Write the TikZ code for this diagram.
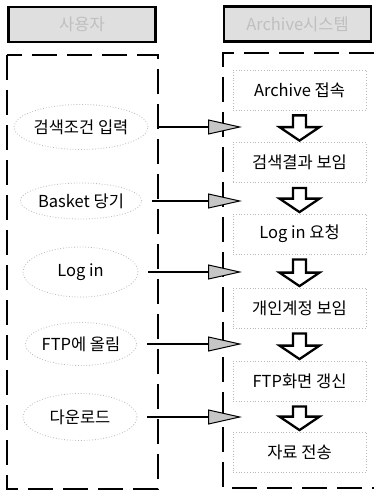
\documentclass[tikz,border=0pt]{standalone}
\usepackage{fontspec}
\newfontfamily\kr{Noto Sans CJK KR}
\usetikzlibrary{shapes.geometric,arrows.meta,calc}
\begin{document}
\begin{tikzpicture}[x=1pt,y=-1pt,
  txt/.style={font=\kr\fontsize{16.5}{19}\selectfont},
  header/.style={txt, draw=black, line width=2.6pt, fill=gray!25, text=gray!50, minimum width=147pt, minimum height=35pt, inner sep=0pt},
  proc/.style={txt, draw=gray!55, dotted, line width=0.8pt, minimum width=133pt, minimum height=40pt, inner sep=0pt},
  usecase/.style={txt, ellipse, draw=gray!55, dotted, line width=0.8pt, inner sep=0pt},
  dashbox/.style={line width=2.4pt, dash pattern=on 25pt off 10pt},
  send/.style={line width=2.2pt, -{Triangle[length=34pt,width=15pt,fill=gray!45,line width=1pt]}, shorten <=10pt},
  hollow/.style={draw=black, fill=white, line width=2.3pt, line join=miter}]
\useasboundingbox (0,0) rectangle (374,492);
\fill[white] (0,0) rectangle (374,492);
% headers
\node[header] (h1) at (82,24.5) {사용자};
\node[header] (h2) at (297.5,24) {Archive시스템};
% swimlanes
\draw[dashbox] (7,55) rectangle (158,489);
\draw[dashbox] (374,53) -- (223,53) -- (223,488) -- (374,488);
% process boxes
\node[proc] (b1) at (299.5,90) {Archive 접속};
\node[proc] (b2) at (299.5,162.5) {검색결과 보임};
\node[proc] (b3) at (299.5,234) {Log in 요청};
\node[proc] (b4) at (299.5,308) {개인계정 보임};
\node[proc] (b5) at (299.5,381) {FTP화면 갱신};
\node[proc] (b6) at (299.5,452) {자료 전송};
% use cases
\node[usecase, minimum width=112pt, minimum height=45pt] (e1) at (81,127) {검색조건 입력};
\node[usecase, minimum width=113pt, minimum height=36pt] (e2) at (81,201) {Basket 당기};
\node[usecase, minimum width=115pt, minimum height=50pt] (e3) at (80.5,272) {Log in};
\node[usecase, minimum width=108pt, minimum height=43pt] (e4) at (81,344) {FTP에 올림};
\node[usecase, minimum width=114pt, minimum height=47pt] (e5) at (80,417) {다운로드};
% arrow tips
\coordinate (t1) at (242,127);
\coordinate (t2) at (242,201);
\coordinate (t3) at (242,272);
\coordinate (t4) at (242,344);
\coordinate (t5) at (242,417);
\foreach \i in {1,...,5} \draw[send] (e\i.east) -- (t\i);
% hollow down arrows
\foreach \a/\b in {b1/b2,b2/b3,b3/b4,b4/b5,b5/b6}
  \draw[hollow] let \p1=(\a.south), \p2=(\b.north) in
    (\x1-6.5pt,\y1-5pt) -- (\x1+6.5pt,\y1-5pt) -- (\x1+6.5pt,\y2+15pt) -- (\x1+20pt,\y2+15pt)
    -- (\x1,\y2+1.5pt) -- (\x1-20pt,\y2+15pt) -- (\x1-6.5pt,\y2+15pt) -- cycle;
\end{tikzpicture}
\end{document}
